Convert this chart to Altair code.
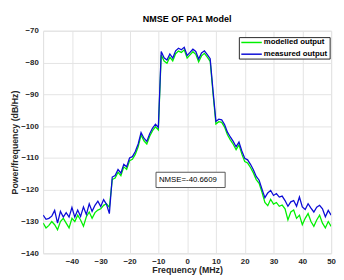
import altair as alt
import pandas as pd

# ---- data ----
freq = list(range(-50, 51))

measured = [
    -128.0, -129.3, -129.0, -128.3, -126.5, -130.5, -126.8, -128.6, -127.2, -128.6,
    -125.6, -128.6, -126.4, -128.4, -125.4, -127.8, -124.4, -126.8, -124.9, -123.6,
    -125.3, -123.1, -124.6, -127.5, -116.0, -115.5, -113.6, -114.8, -112.0, -112.8,
    -110.0, -109.6, -108.0, -105.6, -102.0, -103.8, -104.8, -102.4, -100.6, -99.4,
    -100.4, -76.5, -78.5, -79.2, -77.3, -78.6, -76.3, -75.5, -76.0, -75.2,
    -77.8, -76.8, -75.8, -76.5, -78.9, -77.0, -76.3, -77.5, -78.8, -89.0,
    -98.5, -97.8, -98.0, -99.5, -101.9, -103.4, -104.8, -106.5, -105.0, -107.8,
    -110.1, -110.6, -112.0, -113.7, -115.8, -117.0, -119.8, -122.5, -121.0, -120.2,
    -121.8, -121.2, -122.3, -122.0, -123.4, -125.2, -123.8, -123.4, -125.2, -122.3,
    -125.4, -126.2, -124.4, -125.8, -127.0, -125.5, -124.9, -126.0, -128.5, -126.5,
    -128.0,
]

modelled = [
    -130.5, -132.0, -131.2, -130.0, -131.0, -132.6, -130.0, -129.0, -130.5, -132.0,
    -129.0, -130.0, -128.0, -129.5, -131.5, -128.5, -127.0, -129.0, -127.2, -126.4,
    -126.0, -124.9, -124.4, -125.5, -116.8, -116.3, -114.5, -115.6, -112.8, -113.6,
    -110.9, -110.4, -108.9, -106.5, -102.8, -104.6, -105.6, -103.2, -101.4, -100.2,
    -101.2, -77.6, -79.5, -80.2, -78.3, -79.5, -77.2, -76.4, -76.8, -76.0,
    -78.6, -77.6, -76.6, -77.4, -79.8, -77.9, -77.1, -78.3, -79.6, -89.8,
    -99.3, -98.6, -98.8, -100.3, -102.7, -104.3, -105.7, -107.4, -105.9, -108.8,
    -111.1, -111.6, -113.0, -114.7, -116.8, -118.0, -120.8, -124.0, -125.0, -123.0,
    -124.5, -124.0, -125.2, -124.8, -126.0, -129.5, -127.0, -126.4, -129.0, -128.0,
    -131.0, -129.0, -127.5, -130.0, -131.5, -129.5, -128.0, -130.5, -132.0, -130.0,
    -131.5,
]

series_names = ["modelled output", "measured output"]
series_colors = ["#00f000", "#0c0cd6"]

x_ticks = [-40, -30, -20, -10, 0, 10, 20, 30, 40, 50]
y_ticks = [-70, -80, -90, -100, -110, -120, -130, -140]

nmse_text = ["NMSE=-40.6609"]
nmse_box_x = [-10.8]
nmse_box_x2 = [13.2]
nmse_box_y = [-114.5]
nmse_box_y2 = [-119.3]

chart_title = "NMSE OF PA1 Model"
x_title = "Frequency (MHz)"
y_title = "Power/frequency (dB/Hz)"

# ---- build tables ----
df = pd.DataFrame({
    "freq": freq + freq,
    "power": modelled + measured,
    "series": [series_names[0]] * len(freq) + [series_names[1]] * len(freq),
})
box_df = pd.DataFrame({"x": nmse_box_x, "x2": nmse_box_x2, "y": nmse_box_y,
                       "y2": nmse_box_y2, "label": nmse_text})

FONT = "Liberation Sans"
INK = "#262626"

xscale = alt.Scale(domain=[-50, 50], nice=False, zero=False)
yscale = alt.Scale(domain=[-140, -70], nice=False, zero=False)

common_axis = dict(grid=True, gridColor="#e3e3e3", domain=False, ticks=False,
                   labelFontSize=8, labelFontWeight="bold", labelColor=INK,
                   labelFont=FONT, labelOverlap=False, labelFlush=False,
                   labelBound=False, titleFont=FONT, titleFontSize=9,
                   titleFontWeight="bold", titleColor=INK)

xaxis = alt.Axis(values=x_ticks, title=x_title, labelPadding=4,
                 titleBaseline="top", titleY=13, **common_axis)
yaxis = alt.Axis(values=y_ticks, title=y_title, labelPadding=5,
                 titleAngle=270, titleAlign="center", titleBaseline="middle",
                 titleX=-29, titleY=114, **common_axis)

color = alt.Color("series:N",
                  scale=alt.Scale(domain=series_names, range=series_colors),
                  legend=None)

base = alt.Chart(df).encode(
    x=alt.X("freq:Q", scale=xscale, axis=xaxis),
    y=alt.Y("power:Q", scale=yscale, axis=yaxis),
    color=color,
)

green = base.mark_line(strokeWidth=1.3, clip=True).transform_filter(
    alt.datum.series == series_names[0])
blue = base.mark_line(strokeWidth=1.3, clip=True).transform_filter(
    alt.datum.series == series_names[1])

box = alt.Chart(box_df).mark_rect(fill="white", stroke="#555555", strokeWidth=1).encode(
    x=alt.X("x:Q", scale=xscale, axis=xaxis), x2="x2",
    y=alt.Y("y:Q", scale=yscale, axis=yaxis), y2="y2")
txt = alt.Chart(box_df).mark_text(align="left", baseline="middle", dx=3, fontSize=8,
                                  font=FONT, color="#000000").encode(
    x=alt.X("x:Q", scale=xscale, axis=xaxis),
    y=alt.Y("yc:Q", scale=yscale, axis=yaxis),
    text="label:N",
).transform_calculate(yc="(datum.y + datum.y2) / 2")

# ---- legend box drawn in the top-right corner of the plot ----
legend_layers = [
    alt.Chart(box_df).mark_rect(fill="white", stroke=INK, strokeWidth=1).encode(
        x=alt.value(201), x2=alt.value(294), y=alt.value(7), y2=alt.value(29))
]
for i, (name, col) in enumerate(zip(series_names, series_colors)):
    legend_layers.append(
        alt.Chart(box_df).mark_rule(color=col, strokeWidth=1.5).encode(
            x=alt.value(203), x2=alt.value(224), y=alt.value(12 + 12 * i)))
    legend_layers.append(
        alt.Chart(box_df).mark_text(align="left", baseline="middle", fontSize=8,
                                    fontWeight="bold", font=FONT,
                                    color="#000000").encode(
            x=alt.value(226), y=alt.value(12 + 12 * i), text=alt.value(name)))

chart = alt.layer(green, blue, box, txt, *legend_layers).properties(
    width=295, height=228,
    title=alt.TitleParams(chart_title, font=FONT, fontSize=9.2, fontWeight="bold",
                          color="#000000", anchor="middle", offset=3),
    autosize=alt.AutoSizeParams(type="none"),
    padding={"left": 36, "top": 20, "right": 5, "bottom": 24},
).configure_view(stroke=INK, strokeWidth=1).configure(background="white")

chart.save("out.html", embed_options={"renderer": "svg", "actions": False})
